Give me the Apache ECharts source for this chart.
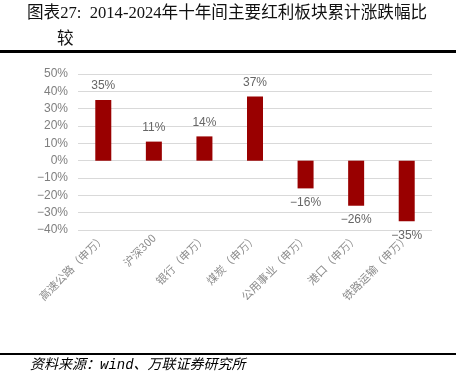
<!DOCTYPE html>
<html><head><meta charset="utf-8">
<script src="https://cdn.jsdelivr.net/npm/echarts@6/dist/echarts.min.js"></script>
<style>html,body{margin:0;padding:0;background:#fff}#c{width:456px;height:373px}</style>
</head><body><div id="c"></div>
<script>
const categories = ['高速公路（申万）','沪深300','银行（申万）','煤炭（申万）','公用事业（申万）','港口（申万）','铁路运输（申万）'];
const values = [35, 11, 14, 37, -16, -26, -35];
const titleLine1 = '图表27:  2014-2024年十年间主要红利板块累计涨跌幅比';
const titleLine2 = '较';
const sourceText = '资料来源：wind、万联证券研究所';

const chart = echarts.init(document.getElementById('c'), null, {renderer:'canvas'});
const serif = '"Liberation Serif","Noto Sans CJK SC",serif';
const fmt = v => (v<0?'\u2212'+(-v):v)+'%';
chart.setOption({
  animation:false,
  grid:{left:78, right:24, top:74, bottom:143, containLabel:false},
  xAxis:{
    type:'category', data:categories, position:'bottom',
    axisLine:{show:false}, axisTick:{show:false},
    axisLabel:{rotate:45, color:'#8c8c8c', fontSize:11, margin:6, interval:0,
      fontFamily:'"Noto Sans CJK SC",sans-serif'}
  },
  yAxis:{
    type:'value', min:-40, max:50, interval:10,
    axisLine:{show:false}, axisTick:{show:false},
    axisLabel:{formatter: fmt, color:'#7f7f7f', fontSize:12, margin:10,
      fontFamily:'"Liberation Sans",Arial,sans-serif'},
    splitLine:{lineStyle:{color:'#d9d9d9', width:1}}
  },
  series:[{
    type:'bar', barWidth:16,
    data: values.map(v => ({value:v, label:{position: v<0?'bottom':'top'}})),
    itemStyle:{color:'#990000'},
    label:{show:true, distance:8,
      formatter: p => fmt(p.value),
      color:'#666', fontSize:12, fontFamily:'"Liberation Sans",Arial,sans-serif'}
  }],
  graphic:[
    {type:'text', left:27, top:5, style:{text:titleLine1, font:'16.6px '+serif, fill:'#111'}},
    {type:'text', left:57, top:31, style:{text:titleLine2, font:'16.6px '+serif, fill:'#111'}},
    {type:'rect', shape:{x:0, y:50, width:456, height:3}, style:{fill:'#000'}},
    {type:'rect', shape:{x:0, y:353, width:456, height:2}, style:{fill:'#000'}},
    {type:'text', left:30, top:358, style:{text:sourceText, font:'italic 14px "Liberation Mono","Noto Sans CJK SC",monospace', fill:'#000'}}
  ]
});
</script></body></html>
